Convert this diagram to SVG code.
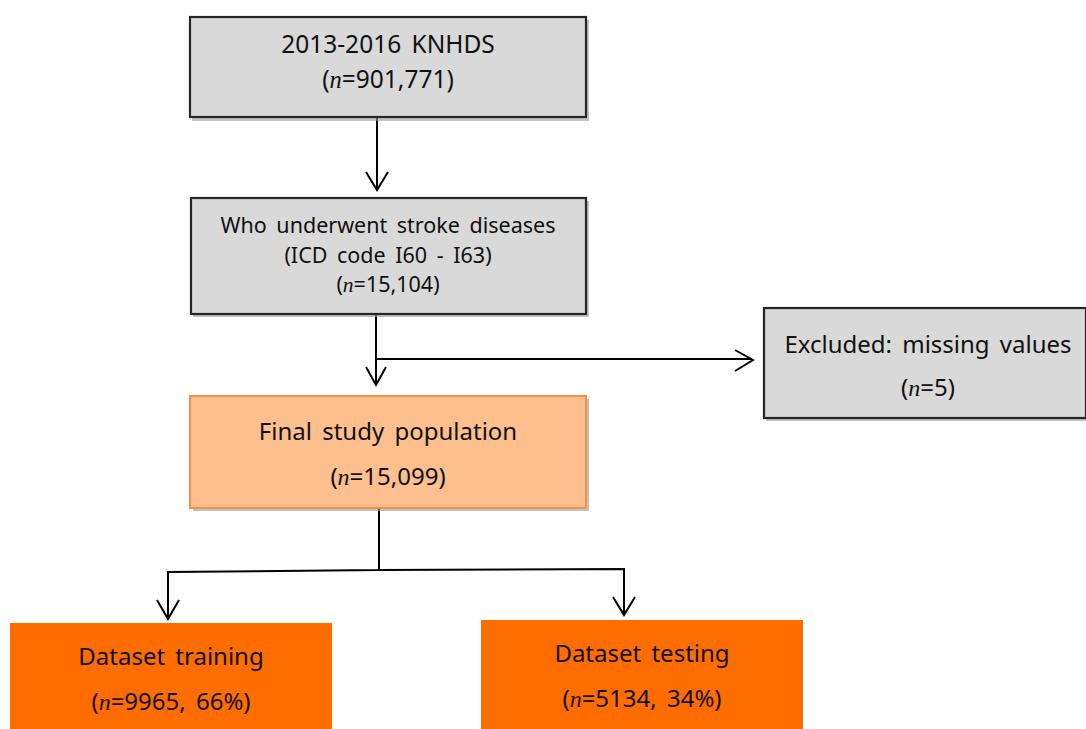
<svg xmlns="http://www.w3.org/2000/svg" width="1086" height="729" viewBox="0 0 1086 729">
<defs>
<style>
.gray{fill:#d9d9d9;stroke:#262626;stroke-width:2.2}
.shadow{fill:#9a9a9a;opacity:0.6}
.light{fill:#fcbf8d;stroke:#f6923f;stroke-width:2}
.dark{fill:#ff6c00}
text{font-family:"Noto Sans","Open Sans","DejaVu Sans",sans-serif;fill:#111;text-anchor:middle;word-spacing:4px}
.n{font-family:"Liberation Serif","DejaVu Serif",serif;font-style:italic}
.t25{font-size:24.5px}
.t21{font-size:21.5px}
.t23{font-size:24px}
.conn{fill:none;stroke:#000;stroke-width:2}
.head{fill:none;stroke:#000;stroke-width:2}
</style>
</defs>
<g id="connectors">
<path class="conn" d="M377 118 V190"/>
<path class="head" d="M366 172 L377 190 L388 172"/>
<path class="conn" d="M376 314 V385 M376 359 H752"/>
<path class="head" d="M366 367 L376 385 L386 367"/>
<path class="head" d="M735 350 L753 360 L735 371"/>
<path class="conn" d="M379 508 V570 M168 619 V572 L379 570 L624 569 V615"/>
<path class="head" d="M157 600 L168 619 L179 600"/>
<path class="head" d="M613 597 L624 615 L635 597"/>
</g>
<g id="n1">
<rect class="shadow" x="192" y="20" width="397" height="101"/>
<rect class="gray" x="190" y="17" width="396" height="100"/>
<text class="t25" x="388" y="53">2013-2016 KNHDS</text>
<text class="t25" x="388" y="88">(<tspan class="n">n</tspan>=901,771)</text>
</g>
<g id="n2">
<rect class="shadow" x="193" y="201" width="396" height="116"/>
<rect class="gray" x="191" y="198" width="395" height="116"/>
<text class="t21" x="388" y="233">Who underwent stroke diseases</text>
<text class="t21" x="388" y="263">(ICD code I60 - I63)</text>
<text class="t21" x="388" y="292">(<tspan class="n">n</tspan>=15,104)</text>
</g>
<g id="n3">
<rect class="shadow" x="766" y="311" width="322" height="110"/>
<rect class="gray" x="764" y="308" width="322" height="110"/>
<text class="t23" x="928" y="353">Excluded: missing values</text>
<text class="t23" x="928" y="396">(<tspan class="n">n</tspan>=5)</text>
</g>
<g id="n4">
<rect class="shadow" x="193" y="399" width="396" height="112" opacity="0.35"/>
<rect class="light" x="190" y="396" width="396" height="112"/>
<text class="t23" x="388" y="440">Final study population</text>
<text class="t23" x="388" y="485">(<tspan class="n">n</tspan>=15,099)</text>
</g>
<g id="n5">
<rect class="dark" x="10" y="623" width="322" height="110"/>
<text class="t23" x="171" y="665">Dataset training</text>
<text class="t23" x="171" y="710">(<tspan class="n">n</tspan>=9965, 66%)</text>
</g>
<g id="n6">
<rect class="dark" x="481" y="620" width="322" height="113"/>
<text class="t23" x="642" y="662">Dataset testing</text>
<text class="t23" x="642" y="707">(<tspan class="n">n</tspan>=5134, 34%)</text>
</g>
</svg>
